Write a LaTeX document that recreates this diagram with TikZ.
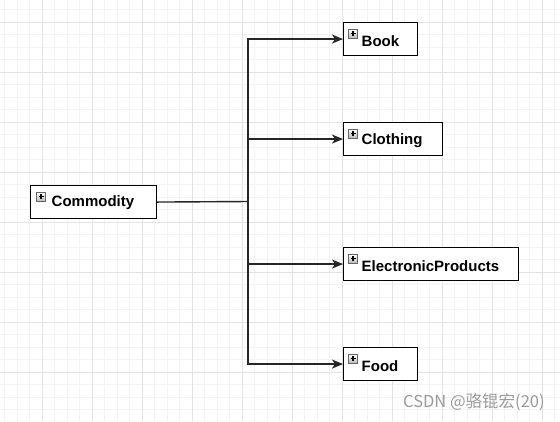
\documentclass[tikz,border=0pt]{standalone}
\usepackage{fontspec}
\setmainfont{Liberation Sans}
\newfontfamily\cjk{Noto Sans CJK SC}
\usetikzlibrary{arrows.meta}
\definecolor{minorgrid}{HTML}{F3F3F3}
\definecolor{majorgrid}{HTML}{E2E2E2}
\definecolor{wm}{HTML}{9A9A9A}
\tikzset{
  entity/.style={draw=black, line width=1.1bp, fill=white, anchor=north west, inner sep=0pt, minimum height=33bp},
  label/.style={anchor=west, inner sep=0pt, font=\fontsize{15bp}{17bp}\selectfont\bfseries},
  conn/.style={line width=1.4bp, draw=black!85},
  arr/.style={conn, -{Stealth[length=11bp,width=9bp,inset=3bp]}},
  plusicon/.pic={
    \shade[top color=white, bottom color=gray!55, draw=gray!80!black, line width=0.6bp] (0,0) rectangle (9,9);
    \draw[black, line width=1.1bp] (2,4.5) -- (7,4.5) (4.5,2) -- (4.5,7);
  }
}
\begin{document}
\begin{tikzpicture}[x=1bp,y=-1bp]
\useasboundingbox (0,0) rectangle (560,421);
\fill[white] (0,0) rectangle (560,421);
% grid
\foreach \i in {0,...,44} \draw[minorgrid, line width=0.6bp] (4.5+12.5*\i,0) -- (4.5+12.5*\i,421);
\foreach \i in {0,...,33} \draw[minorgrid, line width=0.6bp] (0,9.5+12.5*\i) -- (560,9.5+12.5*\i);
\foreach \i in {0,...,10} \draw[majorgrid, line width=0.7bp] (42+50*\i,0) -- (42+50*\i,421);
\foreach \i in {0,...,7} \draw[majorgrid, line width=0.7bp] (0,22+50*\i) -- (560,22+50*\i);

% boxes
\node[entity, minimum width=126bp] (com) at (30,185) {};
\node[entity, minimum width=74bp] (book) at (343,22) {};
\node[entity, minimum width=99bp] (cloth) at (343,122) {};
\node[entity, minimum width=175bp] (elec) at (343,247) {};
\node[entity, minimum width=74bp] (food) at (343,347) {};

% icons and labels
\pic at (36.5,192) {plusicon};
\node[label] (tcom) at (51.5,203) {Commodity};
\pic at (348.5,29) {plusicon};
\node[label] (tbook) at (361.5,41) {Book};
\pic at (348.5,129) {plusicon};
\node[label] (tcloth) at (361.5,141) {Clothing};
\pic at (348.5,254) {plusicon};
\node[label] (telec) at (361.5,266) {ElectronicProducts};
\pic at (348.5,354) {plusicon};
\node[label] (tfood) at (361.5,366) {Food};

% connectors
\coordinate (j) at (248,201.5);
\draw[conn] (com.east) -- (j);
\draw[arr] (j) |- (book.west);
\draw[arr] (j) |- (cloth.west);
\draw[arr] (j) |- (elec.west);
\draw[arr] (j) |- (food.west);

% watermark
\node[anchor=west, inner sep=0pt, text=wm, font=\cjk\fontsize{16.5bp}{18bp}\selectfont] (wm) at (403,402) {CSDN @骆锟宏(20)};
\end{tikzpicture}
\end{document}
